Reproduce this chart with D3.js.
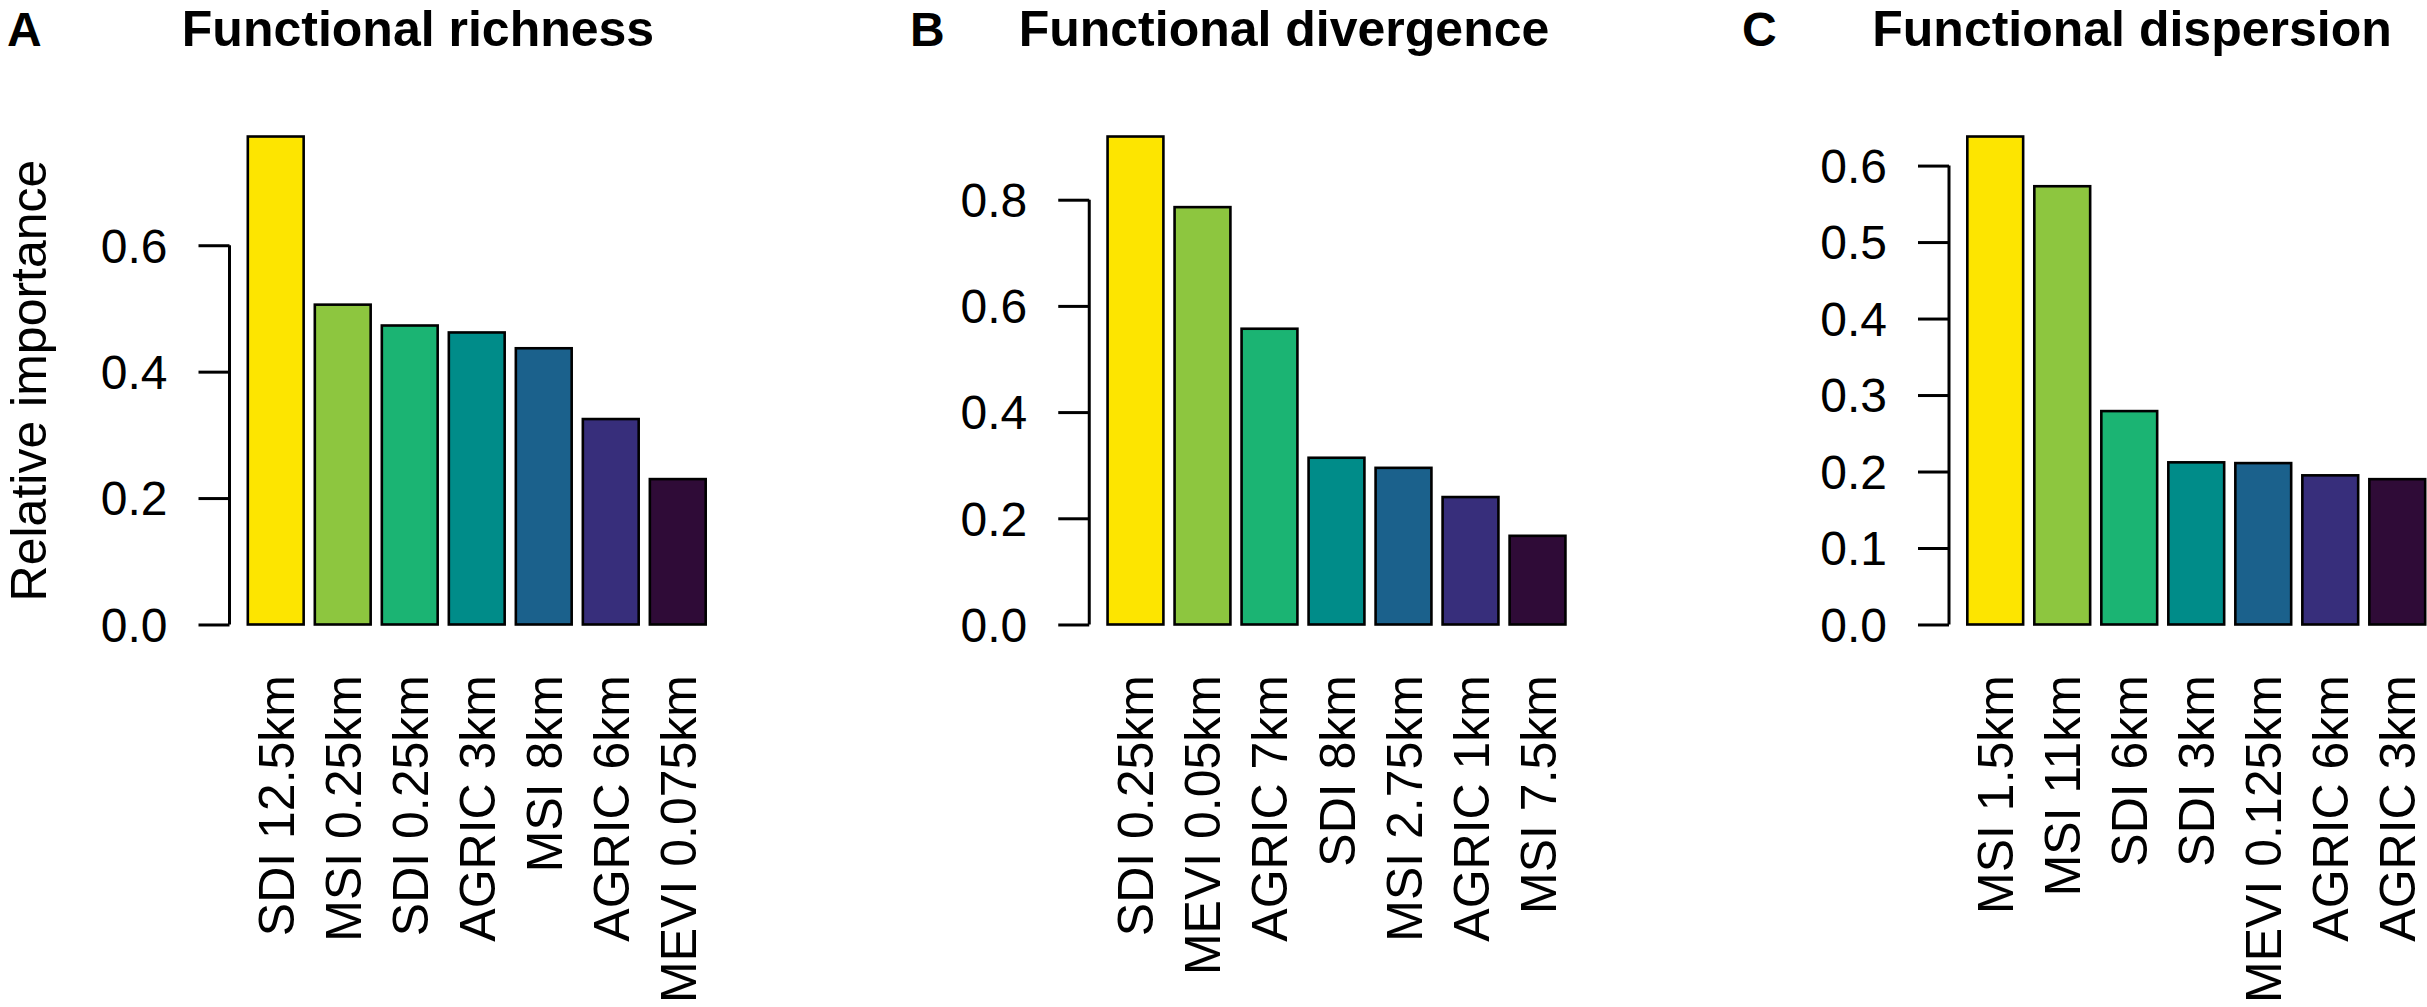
<!DOCTYPE html>
<html lang="en">
<head>
  <meta charset="UTF-8">
  <title>Relative importance of predictors</title>
  <script src="https://d3js.org/d3.v7.min.js"></script>
  <style>
    body { margin: 0; background: #fff; }
    svg text { font-family: "Liberation Sans", Arial, Helvetica, sans-serif; fill: #000; }
  </style>
</head>
<body>
<svg id="chart" width="2427" height="1007"></svg>
<script>
  // panel letters and titles
  const letters = ["A", "B", "C"];
  const titles = ["Functional richness", "Functional divergence", "Functional dispersion"];

  // categories and values for each panel
  const richnessVars = ["SDI 12.5km", "MSI 0.25km", "SDI 0.25km", "AGRIC 3km", "MSI 8km", "AGRIC 6km", "MEVI 0.075km"];
  const richnessVals = [0.772, 0.506, 0.473, 0.462, 0.437, 0.325, 0.230];

  const divergenceVars = ["SDI 0.25km", "MEVI 0.05km", "AGRIC 7km", "SDI 8km", "MSI 2.75km", "AGRIC 1km", "MSI 7.5km"];
  const divergenceVals = [0.919, 0.786, 0.557, 0.314, 0.295, 0.240, 0.167];

  const dispersionVars = ["MSI 1.5km", "MSI 11km", "SDI 6km", "SDI 3km", "MEVI 0.125km", "AGRIC 6km", "AGRIC 3km"];
  const dispersionVals = [0.638, 0.573, 0.279, 0.212, 0.211, 0.195, 0.190];

  // y tick labels
  const richnessTicks = [0, 0.2, 0.4, 0.6];
  const divergenceTicks = [0, 0.2, 0.4, 0.6, 0.8];
  const dispersionTicks = [0, 0.1, 0.2, 0.3, 0.4, 0.5, 0.6];

  // viridis-like palette as printed
  const barColors = ["#FDE500", "#8DC63F", "#1BB473", "#008C89", "#1B618C", "#372E7B", "#2F0B37"];

  const panels = [
    { vars: richnessVars, vals: richnessVals, ticks: richnessTicks },
    { vars: divergenceVars, vals: divergenceVals, ticks: divergenceTicks },
    { vars: dispersionVars, vals: dispersionVals, ticks: dispersionTicks }
  ];

  // layout (pixels)
  const panelStep = 859.75;
  const plotLeft = 229.5, plotRight = 724;
  const plotTop = 117, plotBottom = 644;
  const letterX = [7, 910, 1742];
  const titleX = [418, 1284, 2132];
  const headY = 46;

  const svg = d3.select("#chart");

  panels.forEach((p, i) => {
    const g = svg.append("g").attr("transform", `translate(${i * panelStep},0)`);
    const n = p.vars.length;
    const maxV = d3.max(p.vals);

    // R barplot geometry: width 1, space 0.2, 4% axis padding
    const x0 = 0.2, x1 = 0.2 + 1.2 * n - 0.2;
    const xpad = (x1 - x0) * 0.04;
    const x = d3.scaleLinear().domain([x0 - xpad, x1 + xpad]).range([plotLeft, plotRight]);
    const y = d3.scaleLinear().domain([-0.04 * maxV, 1.04 * maxV]).range([plotBottom, plotTop]);

    g.selectAll("rect.bar")
      .data(p.vals)
      .join("rect")
      .attr("class", "bar")
      .attr("x", (d, j) => x(0.2 + 1.2 * j))
      .attr("width", x(1) - x(0))
      .attr("y", d => y(d))
      .attr("height", d => y(0) - y(d))
      .attr("fill", (d, j) => barColors[j])
      .attr("stroke", "#000")
      .attr("stroke-width", 2.6);

    // y axis, line only between first and last tick like base R
    const ax = g.append("g")
      .attr("transform", `translate(${plotLeft},0)`)
      .call(d3.axisLeft(y).tickValues(p.ticks).tickSize(31).tickPadding(31).tickFormat(d3.format(".1f")));
    ax.select(".domain")
      .attr("d", `M0,${y(p.ticks[0])}V${y(p.ticks[p.ticks.length - 1])}`)
      .attr("stroke-width", 3);
    ax.selectAll(".tick line").attr("stroke-width", 3);
    ax.selectAll(".tick text")
      .attr("font-size", 48)
      .attr("font-family", "Liberation Sans, Arial, sans-serif")
      .attr("dy", "0.35em");

    // category labels, perpendicular to axis
    g.selectAll("text.cat")
      .data(p.vars)
      .join("text")
      .attr("class", "cat")
      .attr("transform", (d, j) => `translate(${x(0.7 + 1.2 * j)},675) rotate(-90)`)
      .attr("text-anchor", "end")
      .attr("dy", "0.36em")
      .attr("font-size", 50)
      .text(d => d);

    // panel letter and title
    svg.append("text")
      .attr("x", letterX[i])
      .attr("y", headY)
      .attr("font-size", 48)
      .attr("font-weight", "bold")
      .text(letters[i]);

    svg.append("text")
      .attr("x", titleX[i])
      .attr("y", headY)
      .attr("text-anchor", "middle")
      .attr("font-size", 50)
      .attr("font-weight", "bold")
      .text(titles[i]);
  });

  // y axis title, first panel only
  svg.append("text")
    .attr("transform", `translate(46,${(plotTop + plotBottom) / 2}) rotate(-90)`)
    .attr("text-anchor", "middle")
    .attr("font-size", 50)
    .text("Relative importance");
</script>
</body>
</html>
